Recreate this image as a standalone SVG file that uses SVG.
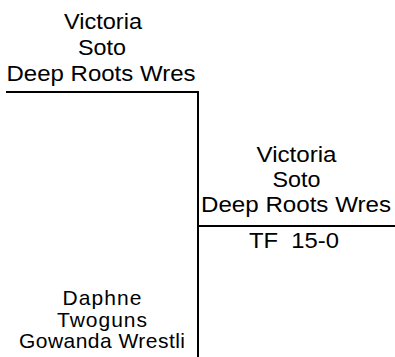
<svg xmlns="http://www.w3.org/2000/svg" width="395" height="357" viewBox="0 0 395 357">
<style>
text{font-family:"Liberation Sans",Arial,sans-serif;font-size:22px;fill:#000;text-anchor:middle}
.sm{font-size:21px}
.ln{stroke:#000;stroke-width:2;fill:none}
</style>
<rect width="395" height="357" fill="#fff"/>
<g id="connectors">
<path class="ln" d="M6 92H198"/>
<path class="ln" d="M198 91V357"/>
<path class="ln" d="M198 226H395"/>
</g>
<g id="node-top">
<text x="103" y="29" textLength="78" lengthAdjust="spacingAndGlyphs">Victoria</text>
<text x="102" y="55" textLength="48" lengthAdjust="spacingAndGlyphs">Soto</text>
<text x="101" y="81" textLength="189" lengthAdjust="spacingAndGlyphs">Deep Roots Wres</text>
</g>
<g id="node-winner">
<text x="296.5" y="162" textLength="80" lengthAdjust="spacingAndGlyphs">Victoria</text>
<text x="296.5" y="187" textLength="48" lengthAdjust="spacingAndGlyphs">Soto</text>
<text x="296" y="212" textLength="190" lengthAdjust="spacingAndGlyphs">Deep Roots Wres</text>
<text x="294" y="248" textLength="90" lengthAdjust="spacingAndGlyphs" xml:space="preserve">TF  15-0</text>
</g>
<g id="node-bottom">
<text class="sm" x="102" y="305" textLength="79" lengthAdjust="spacing">Daphne</text>
<text class="sm" x="102" y="327" textLength="90" lengthAdjust="spacing">Twoguns</text>
<text class="sm" x="102" y="348" textLength="166" lengthAdjust="spacing">Gowanda Wrestli</text>
</g>
</svg>
